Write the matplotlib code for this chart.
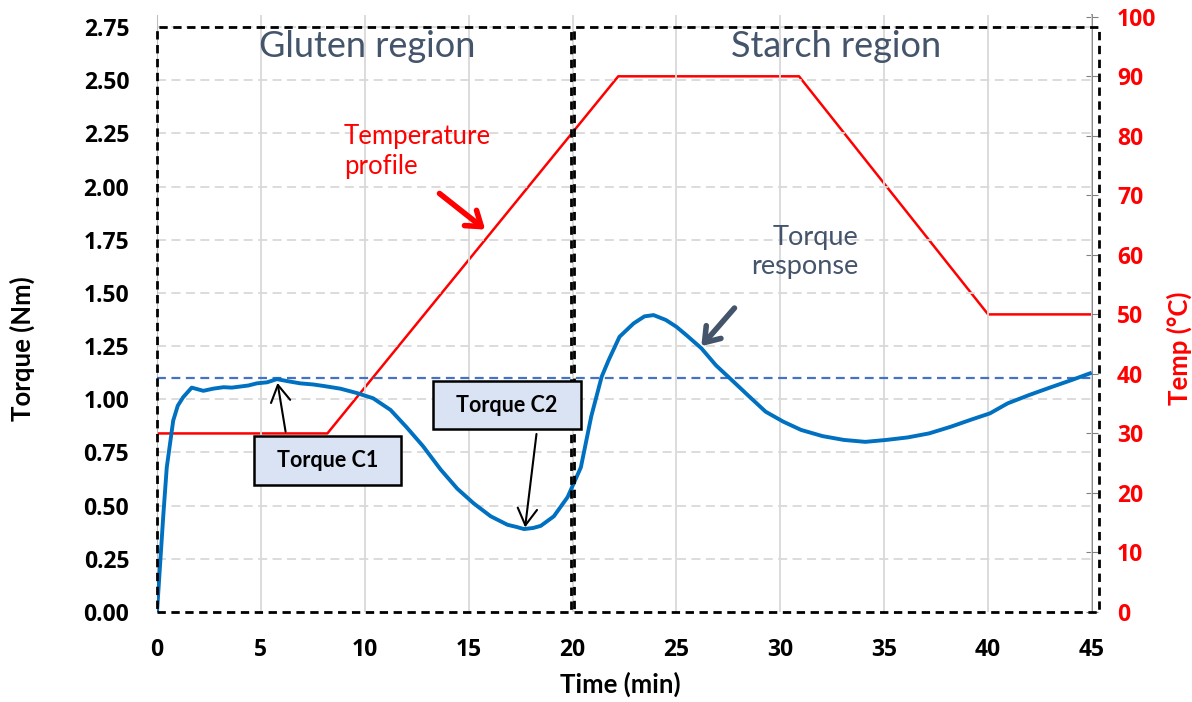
import matplotlib
matplotlib.use("Agg")
import matplotlib.pyplot as plt
from matplotlib.patches import Rectangle, FancyArrowPatch

# temperature programme (min, degC)
temp_t = [0, 8.2, 22.2, 30.9, 40.0, 45.0]
temp_c = [30, 30, 90, 90, 50, 50]

# torque response (min, Nm)
torque_t = [0.0, 0.14, 0.3, 0.47, 0.78, 1.0, 1.26, 1.67, 2.23, 2.7, 3.2, 3.6, 4.0, 4.4, 4.8,
            5.3, 5.77, 6.3, 6.9, 7.5, 8.0, 8.83, 9.6, 10.4, 11.24, 12.0, 12.8, 13.65,
            14.45, 15.25, 16.06, 16.87, 17.3, 17.66, 18.1, 18.47, 19.1, 19.76, 20.4,
            20.9, 21.4, 21.74, 22.26, 22.94, 23.46, 23.9, 24.49, 25.0, 25.5, 26.2, 26.9,
            27.57, 28.43, 29.29, 30.14, 31.0, 32.03, 33.06, 34.09, 35.1, 36.14, 37.17,
            38.2, 39.23, 40.09, 40.94, 41.97, 43.0, 44.03, 44.9]
torque_v = [0.0, 0.21, 0.45, 0.68, 0.90, 0.97, 1.01, 1.055, 1.04, 1.05, 1.057, 1.055, 1.06,
            1.065, 1.075, 1.08, 1.095, 1.085, 1.075, 1.07, 1.063, 1.05, 1.03, 1.005, 0.95,
            0.87, 0.78, 0.67, 0.58, 0.51, 0.45, 0.41, 0.40, 0.39, 0.395, 0.405, 0.45,
            0.54, 0.68, 0.92, 1.106, 1.185, 1.294, 1.357, 1.39, 1.396, 1.373, 1.341, 1.30,
            1.24, 1.16, 1.099, 1.02, 0.942, 0.895, 0.856, 0.827, 0.809, 0.80, 0.809, 0.821,
            0.84, 0.871, 0.906, 0.934, 0.981, 1.02, 1.056, 1.091, 1.122]

ref_torque = 1.10
x_ticks = list(range(0, 50, 5))
y_ticks = [i * 0.25 for i in range(12)]
t_ticks = list(range(0, 110, 10))

txt_font = ["Lato", "DejaVu Sans"]
tick_font = ["Open Sans", "DejaVu Sans"]
grey_txt = "#44546A"

fig = plt.figure(figsize=(11.92, 7.02), dpi=100)
ax = fig.add_axes([157 / 1192, 1 - 612 / 702, 935 / 1192, 597 / 702])
ax2 = ax.twinx()
ax.set_zorder(ax2.get_zorder() + 1)
ax.patch.set_visible(False)

ax.set_xlim(0, 45)
ax.set_ylim(0, 2.807)
ax2.set_ylim(0, 100.3)

# grid
for xv in x_ticks[1:]:
    ax.axvline(xv, color="#D9D9D9", lw=1.3, zorder=0)
for yv in y_ticks[1:]:
    ax.axhline(yv, color="#D9D9D9", lw=1.3, ls=(0, (5, 3)), zorder=0)

# curves
ax2.plot(temp_t, temp_c, color="#FF0000", lw=1.8)
ax.plot(torque_t, torque_v, color="#0070C0", lw=2.8, zorder=4)
ax.axhline(ref_torque, color="#4472C4", lw=1.6, ls=(0, (4, 2.5)), zorder=3)

# region boxes
for x0, x1 in [(0, 19.92), (20.05, 45.35)]:
    ax.add_patch(Rectangle((x0, 0), x1 - x0, 2.75, fill=False, ec="black", lw=2,
                           ls=(0, (3, 2)), clip_on=False, zorder=5))
ax.text(10.1, 2.66, "Gluten region", ha="center", va="center", fontsize=26,
        color=grey_txt, family=txt_font)
ax.text(32.7, 2.66, "Starch region", ha="center", va="center", fontsize=26,
        color=grey_txt, family=txt_font)

# annotations
ax.text(9.0, 2.167, "Temperature\nprofile", ha="left", va="center", fontsize=18.5,
        color="#FF0000", family=txt_font, linespacing=1.25)
ax.add_patch(FancyArrowPatch((13.49, 1.976), (15.9, 1.79), color="#FF0000", lw=4,
                             arrowstyle="->,head_length=0.5,head_width=0.35",
                             mutation_scale=20, zorder=6))
ax.text(33.75, 1.695, "Torque\nresponse", ha="right", va="center", fontsize=19.5,
        color=grey_txt, family=txt_font, linespacing=1.2)
ax.add_patch(FancyArrowPatch((27.88, 1.439), (26.11, 1.24), color=grey_txt, lw=4,
                             arrowstyle="->,head_length=0.5,head_width=0.35",
                             mutation_scale=20, zorder=6))

for (bx0, bx1, by0, by1), label, tail, head in [
        ((4.68, 11.76, 0.597, 0.827), "Torque C1", (6.21, 0.835), (5.78, 1.09)),
        ((13.30, 20.4, 0.86, 1.086), "Torque C2", (18.28, 0.85), (17.7, 0.385))]:
    ax.add_patch(Rectangle((bx0, by0), bx1 - bx0, by1 - by0, fc="#DAE3F3", ec="black",
                           lw=1.8, zorder=7))
    ax.text((bx0 + bx1) / 2, (by0 + by1) / 2, label, ha="center", va="center",
            fontsize=15.5, fontweight="bold", family=txt_font, zorder=8)
    ax.add_patch(FancyArrowPatch(tail, head, color="black", lw=1.5,
                                 arrowstyle="->,head_length=0.6,head_width=0.35",
                                 mutation_scale=20, zorder=6))

# axes styling
ax.set_xticks(x_ticks)
ax.set_yticks(y_ticks)
ax.set_yticklabels([f"{v:.2f}" for v in y_ticks])
ax2.set_yticks(t_ticks)
ax.tick_params(axis="y", length=0, pad=20)
ax.tick_params(axis="x", length=0, pad=19)
for lab in ax.get_xticklabels() + ax.get_yticklabels():
    lab.set_fontweight("bold")
    lab.set_fontsize(16.5)
    lab.set_family(tick_font)
ax2.tick_params(axis="y", direction="inout", length=8, color="#808080",
                labelcolor="#FF0000", pad=14)
for lab in ax2.get_yticklabels():
    lab.set_fontweight("bold")
    lab.set_fontsize(16.5)
    lab.set_family(tick_font)

for a in (ax, ax2):
    a.spines["top"].set_visible(False)
    a.spines["bottom"].set_visible(False)
ax.spines["right"].set_visible(False)
ax.spines["left"].set_color("#BFBFBF")
ax2.spines["left"].set_visible(False)
ax2.spines["right"].set_color("#808080")
ax2.spines["right"].set_linewidth(1.3)

ax.set_xlabel("Time (min)", fontsize=18.5, fontweight="bold", family=txt_font)
ax.xaxis.set_label_coords(0.495, -0.1005)
ax.set_ylabel("Torque (Nm)", fontsize=18.5, fontweight="bold", family=txt_font)
ax.yaxis.set_label_coords(-0.130, 0.442)
ax2.set_ylabel("Temp (°C)", fontsize=18.5, fontweight="bold", family=txt_font,
               color="#FF0000")
ax2.yaxis.set_label_coords(1.080, 0.442)

fig.savefig("out.png", dpi=100)
